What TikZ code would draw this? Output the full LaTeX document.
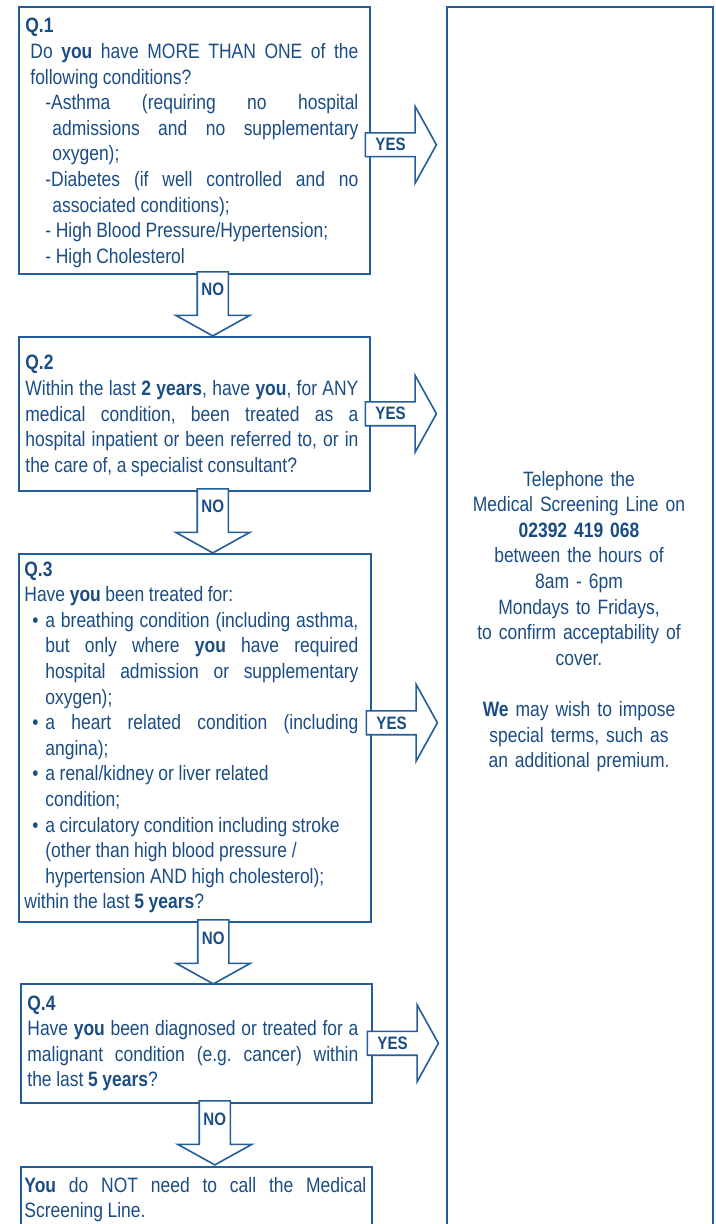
\documentclass[tikz,border=0pt]{standalone}
\usepackage{fontspec}
\setmainfont{Liberation Sans}[FakeStretch=0.84]
\usetikzlibrary{shapes.arrows,positioning}
\definecolor{inkblue}{RGB}{27,77,133}
\definecolor{lineblue}{RGB}{36,94,154}
\newcommand\dashpar{\par\leftskip=10pt\hangindent=3.5pt\hangafter=1\noindent}
\newcommand\bulletpar{\par\leftskip=0pt\hangindent=10.5pt\hangafter=1\noindent\hspace*{4pt}\makebox[6.5pt][l]{\textbullet}}
\newcommand\tightspace{\spaceskip=2.3pt plus 4pt minus 0.8pt\hyphenpenalty=10000\exhyphenpenalty=10000\frenchspacing}

\begin{document}
\begin{tikzpicture}[
    x=0.5pt, y=-0.5pt,
    qbox/.style={draw=lineblue, line width=0.8pt, fill=white, anchor=north west, inner sep=0pt},
    qtext/.style={anchor=base west, inner sep=0pt, text width=#1, align=justify, text=inkblue, font=\fontsize{10.4}{12.8}\selectfont\tightspace},
    blockarrow/.style={single arrow, draw=lineblue, line width=0.8pt, fill=white, text=inkblue, font=\bfseries\fontsize{9}{9}\selectfont,
        single arrow tip angle=122, inner sep=1pt, anchor=tail},
    yesarrow/.style={blockarrow, single arrow head extend=10.25pt, minimum height=35.5pt, minimum width=38.5pt,
        execute at begin node={\hspace*{-3.5pt}}, execute at end node={\hspace*{3.5pt}}},
    noarrow/.style={blockarrow, shape border rotate=270, single arrow head extend=9.75pt, minimum height=32pt, minimum width=37pt,
        text height=6.5pt, text depth=10.1pt}
]
\useasboundingbox (0,0) rectangle (716,1224);
\clip (0,0) rectangle (716,1224);

\node[qbox, minimum width=175.5pt, minimum height=133.5pt] (q1) at (18,6) {};
\node[qbox, minimum width=175.5pt, minimum height=77pt] (q2) at (18,336) {};
\node[qbox, minimum width=176pt, minimum height=184pt] (q3) at (18,553) {};
\node[qbox, minimum width=175.5pt, minimum height=59.5pt] (q4) at (20,983) {};
\node[qbox, minimum width=175.5pt, minimum height=60pt] (done) at (20,1166) {};
\node[qbox, line width=1.2pt, minimum width=133pt, minimum height=640pt] (call) at (446,6) {};

\node[qtext=166.5pt] (q1txt) at (25,33) {\textbf{Q.1}\par\leftskip=2.5pt
Do \textbf{you} have MORE THAN ONE of the\linebreak following conditions?
\dashpar -Asthma (requiring no hospital\linebreak admissions and no supplementary\linebreak oxygen);
\dashpar -Diabetes (if well controlled and no\linebreak associated conditions);
\dashpar - High Blood Pressure/Hypertension;
\dashpar - High Cholesterol\par};

\node[qtext=166.5pt] (q2txt) at (25,370) {\textbf{Q.2}\par
Within the last \textbf{2 years}, have \textbf{you}, for ANY\linebreak medical condition, been treated as a\linebreak hospital inpatient or been referred to, or in\linebreak the care of, a specialist consultant?\par};

\node[qtext=167pt] (q3txt) at (24,576) {\textbf{Q.3}\par
Have \textbf{you} been treated for:
\bulletpar a breathing condition (including asthma,\linebreak but only where \textbf{you} have required\linebreak hospital admission or supplementary\linebreak oxygen);
\bulletpar a heart related condition (including\linebreak angina);
\bulletpar a renal/kidney or liver related\newline condition;
\bulletpar a circulatory condition including stroke\newline (other than high blood pressure /\newline hypertension AND high cholesterol);
\par\leftskip=0pt\hangindent=0pt within the last \textbf{5 years}?\par};

\node[qtext=165.5pt] (q4txt) at (27,1010) {\textbf{Q.4}\par
Have \textbf{you} been diagnosed or treated for a\linebreak malignant condition (e.g. cancer) within\linebreak the last \textbf{5 years}?\par};

\node[qtext=171pt] (donetxt) at (24,1192) {\textbf{You} do NOT need to call the Medical\linebreak Screening Line.\par};

\node[yesarrow] (yes1) at ([xshift=-3pt, yshift=-2.25pt]q1.east) {YES};
\node[yesarrow] (yes2) at ([xshift=-3pt]q2.east) {YES};
\node[yesarrow] (yes3) at ([xshift=-3pt, yshift=7.5pt]q3.east) {YES};
\node[yesarrow] (yes4) at ([xshift=-3pt]q4.east) {YES};

\node[noarrow] (no1) at ([xshift=9.25pt, yshift=1.75pt]q1.south) {NO};
\node[noarrow] (no2) at ([xshift=9.25pt, yshift=1.75pt]q2.south) {NO};
\node[noarrow] (no3) at ([xshift=9.25pt, yshift=1.75pt]q3.south) {NO};
\node[noarrow] (no4) at ([xshift=9.25pt, yshift=1.75pt]q4.south) {NO};

\node[anchor=base, inner sep=0pt, text width=130pt, align=center, text=inkblue, font=\fontsize{10.4}{12.8}\selectfont] (calltxt) at (579,486) {Telephone the\\
Medical Screening Line on\\
\textbf{02392 419 068}\\
between the hours of\\
8am - 6pm\\
Mondays to Fridays,\\
to confirm acceptability of\\
cover.\\[12.8pt]
\textbf{We} may wish to impose\\
special terms, such as\\
an additional premium.};
\end{tikzpicture}
\end{document}
